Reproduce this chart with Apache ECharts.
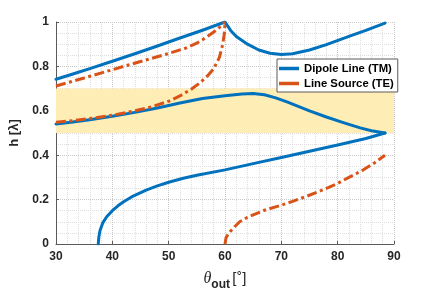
<!DOCTYPE html>
<html>
<head>
<meta charset="utf-8">
<script src="https://cdn.jsdelivr.net/npm/echarts@6/dist/echarts.min.js"></script>
<style>
html,body{margin:0;padding:0;background:#fff;}
#c{width:436px;height:293px;}
</style>
</head>
<body>
<div id="c"></div>
<script>
// ---- data (x = theta_out in degrees, y = h in wavelengths) ----
const xTicks = [30, 40, 50, 60, 70, 80, 90];
const yTicks = [0, 0.2, 0.4, 0.6, 0.8, 1];
const band = [0.5, 0.7];

const tmUpper = [[30,0.742],[33,0.766],[36,0.79],[40,0.823],[44,0.857],[48,0.892],[52,0.928],[56,0.963],[60,1.0],
  [61,0.962],[62,0.935],[64,0.9],[66,0.874],[68,0.859],[70,0.854],[72,0.857],[75,0.874],[78,0.898],[82,0.935],[85,0.962],[88.4,0.995]];
const tmMiddle = [[30,0.541],[33,0.55],[36,0.56],[40,0.575],[44,0.593],[48,0.613],[52,0.635],[56,0.655],[60,0.668],
  [63,0.676],[65,0.678],[67,0.672],[69,0.658],[71,0.64],[73,0.62],[75,0.6],[78,0.572],[81,0.547],[84,0.523],[86,0.51],[88.4,0.5]];
const tmLower = [[37.5,0],[37.6,0.03],[37.8,0.06],[38.3,0.095],[39,0.123],[40,0.15],[41,0.172],[42,0.19],[43.7,0.216],
  [46,0.243],[48,0.262],[50,0.278],[52.6,0.296],[55,0.31],[60,0.334],[65,0.362],[70,0.39],[75,0.418],[80,0.446],[85,0.475],[88.4,0.5]];

const teUpper = [[30,0.712],[35,0.748],[40,0.785],[45,0.822],[50,0.858],[53,0.882],[55,0.905],[56,0.92],[57,0.937],[58,0.955],[59,0.975],[60,1.0]];
const teMiddle = [[30,0.548],[33,0.556],[36,0.565],[40,0.58],[44,0.6],[47,0.618],[50,0.643],[52,0.667],[54,0.697],[55.5,0.725],
  [57,0.76],[58,0.79],[59,0.84],[59.6,0.9],[59.9,0.95],[60,1.0]];
const teLower = [[60,0],[60.2,0.03],[60.9,0.055],[61.8,0.08],[62.6,0.1],[64,0.12],[65,0.131],[67,0.152],[70,0.175],[72,0.192],
  [74.5,0.215],[77,0.24],[80,0.273],[82,0.3],[84.5,0.333],[86.5,0.365],[88.4,0.4]];

const tmName = 'Dipole Line (TM)';
const teName = 'Line Source (TE)';

const BLUE = '#0072BD', ORANGE = '#D95319';
const TXT = '#262626';

function tmSeries(data, extra) {
  return Object.assign({
    type: 'line', name: tmName, data: data, symbol: 'none', smooth: false,
    lineStyle: { color: BLUE, width: 3, cap: 'round', join: 'round' },
    itemStyle: { color: BLUE }, z: 3
  }, extra || {});
}
function teSeries(data) {
  return {
    type: 'line', name: teName, data: data, symbol: 'none', smooth: false,
    lineStyle: { color: ORANGE, width: 3, type: [10, 3.5, 3, 3.5], cap: 'butt' },
    itemStyle: { color: ORANGE }, z: 4
  };
}

const chart = echarts.init(document.getElementById('c'), null, { renderer: 'canvas' });
chart.setOption({
  animation: false,
  backgroundColor: '#fff',
  grid: { left: 56, right: 42, top: 22, bottom: 49, containLabel: false, outerBoundsMode: 'none' },
  legend: {
    data: [tmName, teName],
    orient: 'vertical', left: 277, top: 59,
    padding: [3, 4, 2, 2], itemGap: 2, itemWidth: 20, itemHeight: 3.5,
    icon: 'rect',
    backgroundColor: '#fff', borderColor: '#5a5a5a', borderWidth: 1, borderRadius: 0,
    textStyle: { fontFamily: 'Liberation Sans', fontWeight: 'bold', fontSize: 11.3, color: '#000', lineHeight: 13 }
  },
  xAxis: {
    type: 'value', min: 30, max: 90, interval: 10,
    name: '{t|θ}{s|out}{sp| }{b|[}{d|°}{b|]}',
    nameLocation: 'middle', nameGap: 27,
    nameTextStyle: {
      rich: {
        t: { fontFamily: 'Liberation Serif', fontStyle: 'italic', fontSize: 16, color: TXT, verticalAlign: 'top', lineHeight: 20 },
        s: { fontFamily: 'Liberation Sans', fontWeight: 'bold', fontSize: 12, color: TXT, verticalAlign: 'bottom', lineHeight: 20, padding: [9, 0, 0, 0] },
        sp: { fontSize: 8 },
        b: { fontFamily: 'Liberation Sans', fontSize: 15, color: TXT, verticalAlign: 'top', lineHeight: 20 },
        d: { fontFamily: 'DejaVu Sans', fontSize: 12, color: TXT, verticalAlign: 'top', lineHeight: 12 }
      }
    },
    axisLine: { show: true, onZero: false, lineStyle: { color: '#5a5a5a', width: 1 } },
    axisTick: { show: true, inside: true, length: 3, lineStyle: { color: '#5a5a5a' } },
    axisLabel: { fontFamily: 'Liberation Sans', fontWeight: 'bold', fontSize: 12, color: TXT, margin: 7, hideOverlap: false },
    splitLine: { show: true, lineStyle: { type: 'dotted', color: '#c8c8c8', width: 1 } },
    minorTick: { show: false, splitNumber: 5 },
    minorSplitLine: { show: true, lineStyle: { type: 'dotted', color: '#dedede', width: 1 } }
  },
  yAxis: {
    type: 'value', min: 0, max: 1, interval: 0.2,
    name: 'h [λ]', nameLocation: 'middle', nameGap: 28, nameRotate: 90,
    nameTextStyle: { fontFamily: 'Liberation Sans', fontWeight: 'bold', fontSize: 13, color: TXT },
    axisLine: { show: true, onZero: false, lineStyle: { color: '#5a5a5a', width: 1 } },
    axisTick: { show: true, inside: true, length: 3, lineStyle: { color: '#5a5a5a' } },
    axisLabel: { fontFamily: 'Liberation Sans', fontWeight: 'bold', fontSize: 12, color: TXT, margin: 7 },
    splitLine: { show: true, lineStyle: { type: 'dotted', color: '#c8c8c8', width: 1 } },
    minorTick: { show: false, splitNumber: 4 },
    minorSplitLine: { show: true, lineStyle: { type: 'dotted', color: '#dedede', width: 1 } }
  },
  series: [
    tmSeries(tmUpper, {
      markArea: {
        silent: true,
        itemStyle: { color: '#FFEDB6', opacity: 1 },
        data: [[{ yAxis: band[0], xAxis: 30 }, { yAxis: band[1], xAxis: 90 }]]
      }
    }),
    teSeries(teUpper),
    tmSeries(tmMiddle),
    teSeries(teMiddle),
    tmSeries(tmLower),
    teSeries(teLower)
  ]
});
</script>
</body>
</html>
